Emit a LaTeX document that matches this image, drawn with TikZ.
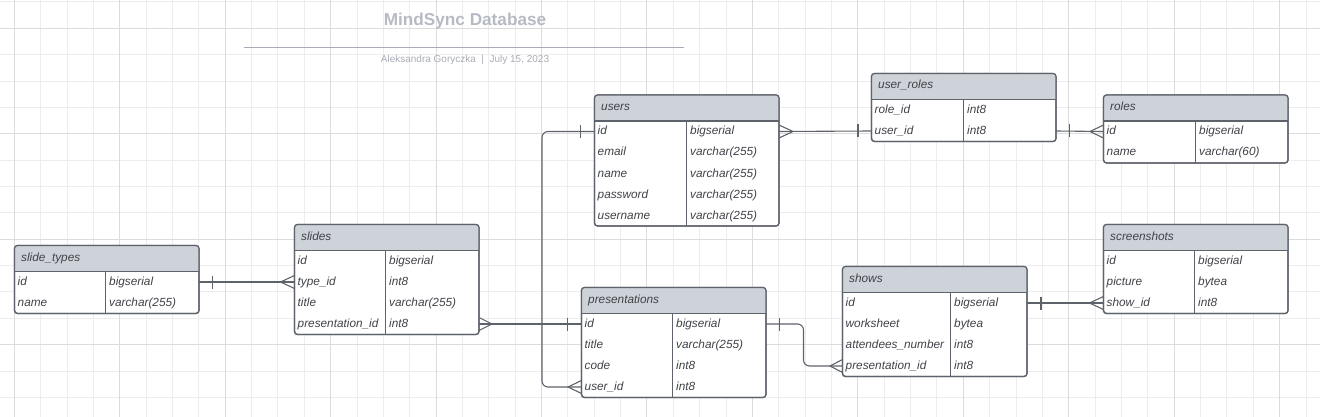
\documentclass[tikz,border=0pt]{standalone}
\usepackage{fontspec}
\setmainfont{Liberation Sans}
\usetikzlibrary{calc}
\definecolor{gridminor}{HTML}{EDEDED}
\definecolor{gridmajor}{HTML}{DCDCDC}
\definecolor{hdrc}{HTML}{CED3DA}
\definecolor{bordc}{HTML}{5E626A}
\definecolor{linec}{HTML}{5E626A}
\definecolor{txtc}{HTML}{404248}
\definecolor{titlec}{HTML}{B6BAC4}
\definecolor{subc}{HTML}{A9ACB5}
\definecolor{rulec}{HTML}{A9ACB5}
\tikzset{
  conn/.style={draw=linec, line width=1.1pt},
  tbl/.style={draw=bordc, line width=1.2pt, fill=white, rounded corners=3pt, inner sep=0pt, outer sep=0pt, anchor=north west},
  celltxt/.style={inner sep=0pt, anchor=base west, font=\fontsize{11.8}{14}\selectfont\itshape, text=txtc},
  gridmin/.style={draw=gridminor, line width=0.9pt},
  gridmaj/.style={draw=gridmajor, line width=1pt},
}
% #1 name #2 x #3 y #4 divider #5 title #6 nrows #7 rows
\newcommand\ertable[7]{%
  \node[tbl, minimum width=184.5pt, minimum height={26pt+#6*21pt}] (#1) at (#2,#3) {};
  \begin{scope}
    \clip[rounded corners=3pt] (#1.north west) rectangle (#1.south east);
    \fill[hdrc] (#1.north west) rectangle ($(#1.north east)+(0,26)$);
  \end{scope}
  \draw[bordc, line width=1.2pt] ($(#1.north west)+(0,26)$) -- ($(#1.north east)+(0,26)$);
  \draw[bordc, line width=1.2pt] ($(#1.north west)+(#4,26)$) -- ($(#1.south west)+(#4,0)$);
  \draw[bordc, line width=1.2pt, rounded corners=3pt] (#1.north west) rectangle (#1.south east);
  \node[celltxt] (#1-title) at ($(#1.north west)+(6.5,15.5)$) {#5};
  \foreach [count=\i from 0] \a/\b in {#7} {
    \node[celltxt] (#1-\i-n) at ($(#1.north west)+(3,26+21*\i+14)$) {\a};
    \node[celltxt] (#1-\i-t) at ($(#1.north west)+(#4+3.5,26+21*\i+14)$) {\b};
    \coordinate (#1-\i-w) at ($(#1.north west)+(0,26+21*\i+10.5)$);
    \coordinate (#1-\i-e) at ($(#1.north east)+(0,26+21*\i+10.5)$);
  }
}
\newcommand\barmark[2]{\draw[conn] ($(#1)+(#2,-6.5)$) -- ($(#1)+(#2,6.5)$);}
\newcommand\crowmark[2]{\draw[conn, line join=miter] ($(#1)+(0,-6.5)$) -- ($(#1)+(#2,0)$) -- ($(#1)+(0,6.5)$);}
\begin{document}
\begin{tikzpicture}[x=1pt, y=-1pt]
\useasboundingbox (0,0) rectangle (1320,417);
% grid
\foreach \k in {0,...,49} { \draw[gridmin] ({14.3+26.36*\k},0) -- ({14.3+26.36*\k},417); }
\foreach \j in {0,...,15} { \draw[gridmin] (0,{1.94+26.36*\j}) -- (1320,{1.94+26.36*\j}); }
\foreach \k in {0,4,...,48} { \draw[gridmaj] ({14.3+26.36*\k},0) -- ({14.3+26.36*\k},417); }
\foreach \j in {1,5,9,13} { \draw[gridmaj] (0,{1.94+26.36*\j}) -- (1320,{1.94+26.36*\j}); }
% title
\node[inner sep=0pt, text=titlec, font=\fontsize{17.2}{20}\selectfont\bfseries] (title) at (465,20.7) {MindSync Database};
\coordinate (ruleL) at (244,47.3);
\coordinate (ruleR) at (684,47.3);
\draw[rulec, line width=1.1pt] (ruleL) -- (ruleR);
\node[inner sep=0pt, text=subc, font=\fontsize{10}{12}\selectfont] (subtitle) at (465,60) {Aleksandra Goryczka\ \ |\ \ July 15, 2023};
% tables
\ertable{users}{594.5}{95}{92}{users}{5}{id/bigserial, email/varchar(255), name/varchar(255), password/varchar(255), username/varchar(255)}
\ertable{userroles}{871.5}{73.5}{92}{user\_roles}{2}{role\_id/int8, user\_id/int8}
\ertable{roles}{1103.5}{95}{92}{roles}{2}{id/bigserial, name/varchar(60)}
\ertable{slidetypes}{14.5}{245.5}{91}{slide\_types}{2}{id/bigserial, name/varchar(255)}
\ertable{slides}{294.5}{224.5}{91}{slides}{4}{id/bigserial, type\_id/int8, title/varchar(255), presentation\_id/int8}
\ertable{presentations}{581.5}{287.5}{91}{presentations}{4}{id/bigserial, title/varchar(255), code/int8, user\_id/int8}
\ertable{shows}{842.5}{266.5}{108}{shows}{4}{id/bigserial, worksheet/bytea, attendees\_number/int8, presentation\_id/int8}
\ertable{screenshots}{1103.5}{224.5}{91}{screenshots}{3}{id/bigserial, picture/bytea, show\_id/int8}
% connectors
\draw[conn, rounded corners=6pt] (users-0-w) -- ++(-52.5,0) |- (presentations-3-w);
\barmark{users-0-w}{-14}
\crowmark{presentations-3-w}{-13.5}
\draw[conn] (users-0-e) -- (userroles-1-w);
\crowmark{users-0-e}{14}
\barmark{userroles-1-w}{-13.5}
\draw[conn] (userroles-1-e) -- (roles-0-w);
\barmark{userroles-1-e}{13.5}
\crowmark{roles-0-w}{-13.5}
\draw[conn] (slidetypes-0-e) -- (slides-1-w);
\barmark{slidetypes-0-e}{13.5}
\crowmark{slides-1-w}{-14}
\draw[conn] (slides-3-e) -- (presentations-0-w);
\crowmark{slides-3-e}{13}
\barmark{presentations-0-w}{-14}
\draw[conn, rounded corners=6pt] (presentations-0-e) -- ++(37.5,0) |- (shows-3-w);
\barmark{presentations-0-e}{13.5}
\crowmark{shows-3-w}{-12.5}
\draw[conn] (shows-0-e) -- (screenshots-2-w);
\barmark{shows-0-e}{14}
\crowmark{screenshots-2-w}{-14}
\end{tikzpicture}
\end{document}
